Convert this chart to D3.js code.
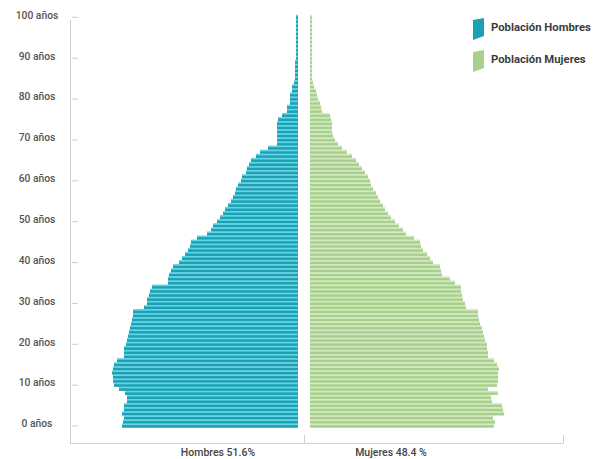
<!DOCTYPE html>
<html>
<head>
<meta charset="utf-8">
<script src="https://cdn.jsdelivr.net/npm/d3@7"></script>
<style>
  html, body { margin: 0; padding: 0; background: #fff; }
  svg { display: block; font-family: Roboto, "Noto Sans", sans-serif; }
</style>
</head>
<body>
<svg id="chart" width="597" height="459"></svg>
<script>
// Ages 0..100, one bar per year
const ages = d3.range(0, 101);

// Population by single year of age (relative units), men
const hombres = [
  176, 175, 174, 176, 174, 174, 171, 171, 173, 179,
  184, 185, 185, 186, 185, 184, 181, 174, 174, 174,
  172, 171, 170, 169, 168, 167, 166, 165, 165, 154,
  151, 151, 149, 148, 146, 130, 130, 129, 127, 125,
  119, 116, 113, 110, 108, 107, 101, 91, 87, 85,
  81, 78, 75, 73, 70, 67, 65, 63, 62, 60,
  57, 56, 52, 51, 49, 47, 42, 38, 30, 21,
  21, 21, 21, 21, 21, 20, 16, 11, 11, 8,
  8, 8, 6, 6, 4, 3, 3, 3, 3, 3,
  2, 2, 2, 2, 2, 2, 2, 2, 2, 2, 2
];

// Population by single year of age (relative units), women
const mujeres = [
  184, 185, 183, 194, 193, 192, 182, 181, 188, 178,
  187, 188, 188, 188, 189, 187, 184, 178, 178, 177,
  177, 175, 174, 173, 172, 170, 169, 168, 168, 156,
  155, 153, 152, 151, 151, 145, 140, 132, 131, 130,
  123, 120, 117, 113, 111, 110, 104, 96, 93, 89,
  85, 81, 78, 75, 73, 70, 68, 66, 63, 61,
  60, 58, 55, 52, 49, 46, 42, 37, 32, 28,
  25, 23, 22, 22, 22, 21, 20, 12, 11, 10,
  8, 7, 6, 4, 3, 2, 2, 2, 2, 2,
  2, 2, 2, 2, 2, 2, 2, 2, 2, 2, 2
];

const tickAges = [0, 10, 20, 30, 40, 50, 60, 70, 80, 90, 100];
const tickLabels = ["0 años", "10 años", "20 años", "30 años", "40 años", "50 años",
                    "60 años", "70 años", "80 años", "90 años", "100 años"];

const bottomLabels = ["Hombres 51.6%", "Mujeres 48.4 %"];
const legendLabels = ["Población Hombres", "Población Mujeres"];

const colors = {
  menDark: "#1ba0b4", menLight: "#63d5e4",
  womenDark: "#a8d08c", womenLight: "#d3eac2",
  axis: "#cfcfcf", label: "#555555", legendText: "#3d3d3d"
};

const svg = d3.select("#chart");

// Layout
const axisX = 70, axisBottom = 443, axisRightX = 563;
const menEdge = 298, womenEdge = 310, centerTick = 304;

// Vertical band scale (age 100 at the top)
const y = d3.scaleBand()
  .domain(ages.slice().reverse())
  .range([14.8, 427.6])
  .paddingInner(0).paddingOuter(0);
const yCenter = a => y(a) + y.bandwidth() / 2;

// Horizontal scales, both growing outward from the centre gap
const maxVal = 200;
const xMen = d3.scaleLinear().domain([0, maxVal]).range([menEdge, menEdge - 200]);
const xWomen = d3.scaleLinear().domain([0, maxVal]).range([womenEdge, womenEdge + 200]);

const bw = y.bandwidth();
const darkH = bw * 0.6;

// Bars: light stripe on top, darker body below
function drawSide(values, scale, isMen, dark, light) {
  const g = svg.append("g");
  const rows = g.selectAll("g.row").data(ages).join("g").attr("class", "row");
  rows.append("rect")
    .attr("x", a => isMen ? scale(values[a]) : scale(0))
    .attr("width", a => Math.abs(scale(values[a]) - scale(0)))
    .attr("y", a => y(a))
    .attr("height", bw)
    .attr("fill", light);
  rows.append("rect")
    .attr("x", a => isMen ? scale(values[a]) : scale(0))
    .attr("width", a => Math.abs(scale(values[a]) - scale(0)))
    .attr("y", a => y(a) + bw - darkH)
    .attr("height", darkH)
    .attr("fill", dark);
}
drawSide(hombres, xMen, true, colors.menDark, colors.menLight);
drawSide(mujeres, xWomen, false, colors.womenDark, colors.womenLight);

// Left axis
const yAxisScale = d3.scaleLinear().domain([0, 100]).range([yCenter(0), yCenter(100)]);
const yAxis = d3.axisLeft(yAxisScale)
  .tickValues(tickAges)
  .tickFormat((d, i) => tickLabels[i])
  .tickSize(0)
  .tickPadding(0);

const gy = svg.append("g").attr("transform", `translate(${axisX},0)`).call(yAxis);
gy.select(".domain").remove();
gy.selectAll(".tick line")
  .attr("x1", 2).attr("x2", 8)
  .attr("stroke", colors.axis).attr("stroke-width", 1);
gy.selectAll(".tick text")
  .attr("x", -33)
  .attr("dy", "0.32em")
  .attr("y", -2)
  .attr("text-anchor", "middle")
  .attr("fill", colors.label)
  .style("font-size", "10.3px")
  .style("font-weight", 500)
  .style("font-family", "Roboto, sans-serif");

// Axis frame lines
svg.append("line")
  .attr("x1", axisX + 0.5).attr("x2", axisX + 0.5)
  .attr("y1", 20).attr("y2", axisBottom)
  .attr("stroke", colors.axis).attr("stroke-width", 1);
svg.append("line")
  .attr("x1", axisX).attr("x2", axisRightX + 0.5)
  .attr("y1", axisBottom + 0.5).attr("y2", axisBottom + 0.5)
  .attr("stroke", colors.axis).attr("stroke-width", 1);
[centerTick, axisRightX].forEach(tx => {
  svg.append("line")
    .attr("x1", tx + 0.5).attr("x2", tx + 0.5)
    .attr("y1", axisBottom - 8).attr("y2", axisBottom)
    .attr("stroke", colors.axis).attr("stroke-width", 1);
});

// Bottom labels
const bottomX = [218, 391];
svg.selectAll("text.bottom").data(bottomLabels).join("text")
  .attr("class", "bottom")
  .attr("x", (d, i) => bottomX[i])
  .attr("y", 456)
  .attr("text-anchor", "middle")
  .attr("fill", "#444")
  .style("font-size", "10.5px")
  .style("font-weight", 500)
  .text(d => d);

// Legend
const legendColors = [colors.menDark, colors.womenDark];
const legendY = [18, 50];
legendLabels.forEach((lab, i) => {
  const y0 = legendY[i];
  svg.append("path")
    .attr("d", `M473,${y0 + 2} L484,${y0} L484,${y0 + 18} L473,${y0 + 22} Z`)
    .attr("fill", legendColors[i]);
  svg.append("text")
    .attr("x", 491)
    .attr("y", y0 + 13)
    .attr("fill", colors.legendText)
    .style("font-size", "11.3px")
    .style("font-weight", 700)
    .text(lab);
});
</script>
</body>
</html>
